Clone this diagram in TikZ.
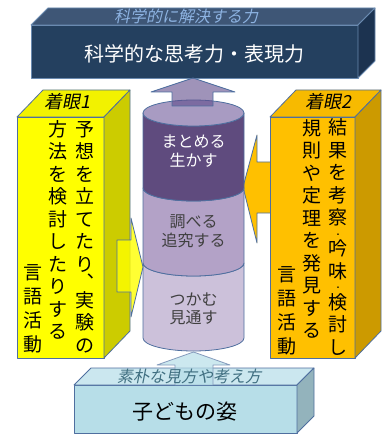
\documentclass[tikz,border=0pt]{standalone}
\usepackage{fontspec}
\setmainfont{Noto Sans CJK JP}
\newfontfamily\jpit{Noto Sans CJK JP}[FakeSlant=0.2]
\definecolor{navyfront}{HTML}{24405F}
\definecolor{navytop}{HTML}{3E5676}
\definecolor{navyside}{HTML}{1C3350}
\definecolor{navyedge}{HTML}{6A8AB0}
\definecolor{toptext}{HTML}{8DB3E2}
\definecolor{edgecol}{HTML}{4F6F9F}
\definecolor{yelfront}{HTML}{FFFF00}
\definecolor{yeltop}{HTML}{F2F200}
\definecolor{yelside}{HTML}{CCCC00}
\definecolor{orfront}{HTML}{FFC000}
\definecolor{ortop}{HTML}{F7BA00}
\definecolor{orside}{HTML}{CC9A00}
\definecolor{bluefront}{HTML}{B7DEE8}
\definecolor{bluetop}{HTML}{CBE7EF}
\definecolor{blueside}{HTML}{93B3BC}
\definecolor{bluetext}{HTML}{3F6E80}
\definecolor{cyltop}{HTML}{A89BC2}
\definecolor{cyldark}{HTML}{5F4B7E}
\definecolor{cylmid}{HTML}{B3A2C7}
\definecolor{cyllow}{HTML}{CCC1DA}
\definecolor{cyltext}{HTML}{404040}
\definecolor{uparrow}{HTML}{5F4B8B}
\newcommand{\vdot}{{\fontsize{10}{10}\selectfont ･}}
\begin{document}
\begin{tikzpicture}[x=1pt,y=-1pt,
  edge/.style={draw=edgecol, line width=0.8pt, line join=round},
  vtext/.style={align=center, inner sep=0pt, text=black, font=\fontsize{19}{22.5}\selectfont},
  vtextb/.style={align=center, inner sep=0pt, text=black, font=\fontsize{19}{24}\selectfont},
  toplabel/.style={inner sep=0pt, font=\jpit\fontsize{18}{18}\selectfont},
  cyltxt/.style={align=center, inner sep=0pt, font=\fontsize{16}{18.5}\selectfont}]
\useasboundingbox (0,0) rectangle (385,435);

% top box
\path[edge, draw=navyedge, fill=navyfront] (31,25) rectangle (358,78);
\path[edge, draw=navyedge, fill=navytop] (31,25) -- (48,8) -- (375,8) -- (358,25) -- cycle;
\path[edge, draw=navyedge, fill=navyside] (358,25) -- (375,8) -- (375,61) -- (358,78) -- cycle;

% bottom box
\path[edge, fill=bluefront] (74,385) rectangle (297,433);
\path[edge, fill=bluetop] (74,385) -- (91,368) -- (314,368) -- (297,385) -- cycle;
\path[edge, fill=blueside] (297,385) -- (314,368) -- (314,416) -- (297,433) -- cycle;

% left box
\path[edge, fill=yelfront] (17,117) rectangle (104,358);
\path[edge, fill=yeltop] (17,117) -- (43,90) -- (130,90) -- (104,117) -- cycle;
\path[edge, fill=yelside] (104,117) -- (130,90) -- (130,331) -- (104,358) -- cycle;

% right arrow (behind right box)
\path[edge, fill=orfront] (271,162) -- (257,162) -- (257,135) -- (243,187) -- (257,243) -- (257,213) -- (271,213);

% right box
\path[edge, fill=orfront] (270,117) rectangle (355,358);
\path[edge, fill=ortop] (270,117) -- (296,90) -- (381,90) -- (355,117) -- cycle;
\path[edge, fill=orside] (355,117) -- (381,90) -- (381,331) -- (355,358) -- cycle;

% cylinder (arcs bulge downward in the picture)
\path[edge, fill=cyllow] (143,263) -- (143,338) arc[start angle=180, end angle=0, x radius=50.5, y radius=13] -- (244,263) arc[start angle=0, end angle=180, x radius=50.5, y radius=13] -- cycle;
\path[edge, fill=cylmid] (143,188) -- (143,263) arc[start angle=180, end angle=0, x radius=50.5, y radius=13] -- (244,188) arc[start angle=0, end angle=180, x radius=50.5, y radius=13] -- cycle;
\path[edge, fill=cyldark] (143,113) -- (143,188) arc[start angle=180, end angle=0, x radius=50.5, y radius=13] -- (244,113) arc[start angle=0, end angle=180, x radius=50.5, y radius=13] -- cycle;
\path[edge, fill=cyltop] (193.5,113) ellipse[x radius=50.5, y radius=13];

% left arrow (semi-transparent, over box side)
\path[edge, fill=yelfront, fill opacity=0.8] (117,240) -- (131,240) -- (131,218) -- (143,267) -- (131,317) -- (131,292) -- (117,292) -- cycle;

% bottom arrow
\path[edge, draw=edgecol!70, fill=bluefront, fill opacity=0.7] (175,385) -- (175,365) -- (157,365) -- (193.5,352) -- (230,365) -- (213,365) -- (213,385);

% up arrow
\path[edge, fill=uparrow, fill opacity=0.6] (172,106) -- (172,92) -- (151,92) -- (193,78) -- (235,92) -- (213,92) -- (213,106) -- cycle;

% texts
\node[inner sep=0pt, text=toptext, font=\jpit\fontsize{16}{16}\selectfont] (solve) at (186,16) {科学的に解決する力};
\node[inner sep=0pt, text=white, font=\fontsize{20}{20}\selectfont] (think) at (194,54) {科学的な思考力・表現力};

\node[toplabel] (chak1) at (67,102) {着眼1};
\node[toplabel] (chak2) at (328,102) {着眼2};

\node[vtext] (l1) at (85,237) {予\\想\\を\\立\\て\\た\\り\\[-4pt]︑\\[-5pt]実\\験\\の};
\node[vtext] (l2) at (58,230) {方\\法\\を\\検\\討\\し\\た\\り\\す\\る};
\node[vtextb] (l3) at (33,309) {言\\語\\活\\動};

\node[vtext] (r1) at (338,237) {結\\果\\を\\考\\察\\[-9pt]\vdot\\[-5pt]吟\\味\\[-9pt]\vdot\\[-5pt]検\\討\\し};
\node[vtext] (r2) at (312,229) {規\\則\\や\\定\\理\\を\\発\\見\\す\\る};
\node[vtextb] (r3) at (287,311) {言\\語\\活\\動};

\node[cyltxt, text=white] (c1) at (193.5,151) {まとめる\\生かす};
\node[cyltxt, text=cyltext] (c2) at (193.5,231) {調べる\\追究する};
\node[cyltxt, text=cyltext] (c3) at (193.5,309) {つかむ\\見通す};

\node[inner sep=0pt, text=bluetext, font=\jpit\fontsize{16}{16}\selectfont] (naive) at (189,376) {素朴な見方や考え方};
\node[inner sep=0pt, text=black, font=\fontsize{21}{21}\selectfont] (child) at (185,412) {子どもの姿};
\end{tikzpicture}
\end{document}
